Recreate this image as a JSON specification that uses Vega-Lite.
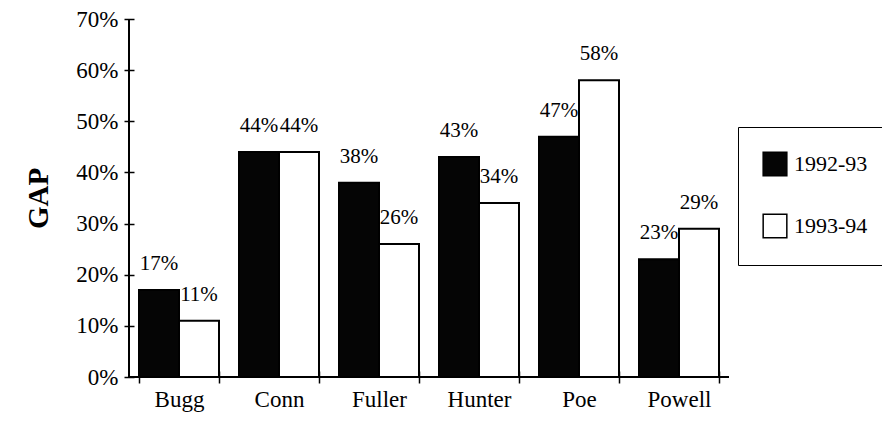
{
  "$schema": "https://vega.github.io/schema/vega-lite/v6.json",
  "width": 600,
  "height": 358,
  "autosize": {"type": "none"},
  "padding": {"left": 129, "top": 19, "right": 153, "bottom": 52},
  "background": "white",
  "config": {
    "view": {"stroke": null},
    "font": "Liberation Serif, Times New Roman, serif",
    "axis": {"labelFont": "Liberation Serif, Times New Roman, serif", "titleFont": "Liberation Serif, Times New Roman, serif", "labelColor": "black", "titleColor": "black", "tickColor": "black", "domainColor": "black"}
  },
  "data": {
    "values": [
      {"school": "Bugg", "year": "1992-93", "value": 0.17},
      {"school": "Bugg", "year": "1993-94", "value": 0.11},
      {"school": "Conn", "year": "1992-93", "value": 0.44},
      {"school": "Conn", "year": "1993-94", "value": 0.44},
      {"school": "Fuller", "year": "1992-93", "value": 0.38},
      {"school": "Fuller", "year": "1993-94", "value": 0.26},
      {"school": "Hunter", "year": "1992-93", "value": 0.43},
      {"school": "Hunter", "year": "1993-94", "value": 0.34},
      {"school": "Poe", "year": "1992-93", "value": 0.47},
      {"school": "Poe", "year": "1993-94", "value": 0.58},
      {"school": "Powell", "year": "1992-93", "value": 0.23},
      {"school": "Powell", "year": "1993-94", "value": 0.29}
    ]
  },
  "layer": [
    {
      "mark": {"type": "bar", "stroke": "black", "strokeWidth": 2},
      "encoding": {
        "x": {
          "field": "school", "type": "nominal", "sort": null,
          "scale": {"paddingInner": 0.2, "paddingOuter": 0.1},
          "axis": {"title": null, "labelAngle": 0, "labelFontSize": 23, "domain": false, "offset": -6, "tickSize": 12, "tickWidth": 1.5, "tickBand": "extent", "labelPadding": 5}
        },
        "y": {
          "field": "value", "type": "quantitative",
          "scale": {"domain": [0, 0.7], "nice": false, "zero": true},
          "axis": {"title": "GAP", "titleFontSize": 29, "titleFontWeight": "bold", "titlePadding": 22, "values": [0, 0.1, 0.2, 0.3, 0.4, 0.5, 0.6, 0.7], "format": ".0%", "labelFontSize": 23, "grid": false, "domain": false, "offset": -5, "tickSize": 10, "tickWidth": 1.5, "labelPadding": 6}
        },
        "xOffset": {"field": "year", "type": "nominal"},
        "color": {
          "field": "year", "type": "nominal",
          "scale": {"domain": ["1992-93", "1993-94"], "range": ["#050505", "#ffffff"]},
          "legend": {
            "title": null, "orient": "none", "legendX": 609, "legendY": 108,
            "fillColor": "white", "strokeColor": "black",
            "padding": 24, "rowPadding": 32, "labelLimit": 400,
            "symbolType": "square", "symbolSize": 560, "symbolStrokeColor": "black", "symbolStrokeWidth": 1.5,
            "labelFont": "Liberation Serif, Times New Roman, serif", "labelFontSize": 22, "labelColor": "black", "labelOffset": 6
          }
        }
      }
    },
    {
      "mark": {"type": "text", "baseline": "bottom", "dy": -16, "fontSize": 21, "font": "Liberation Serif, Times New Roman, serif", "color": "black"},
      "encoding": {
        "x": {"field": "school", "type": "nominal", "sort": null},
        "y": {"field": "value", "type": "quantitative"},
        "xOffset": {"field": "year", "type": "nominal"},
        "text": {"field": "value", "type": "quantitative", "format": ".0%"}
      }
    },
    {
      "mark": {"type": "rule", "color": "black", "strokeWidth": 2},
      "encoding": {
        "y": {"datum": 0, "type": "quantitative"}
      }
    },
    {
      "mark": {"type": "rule", "color": "black", "strokeWidth": 2},
      "encoding": {
        "x": {"datum": "Bugg", "type": "nominal", "bandPosition": -0.125},
        "y": {"datum": 0, "type": "quantitative"},
        "y2": {"datum": 0.7}
      }
    }
  ]
}
